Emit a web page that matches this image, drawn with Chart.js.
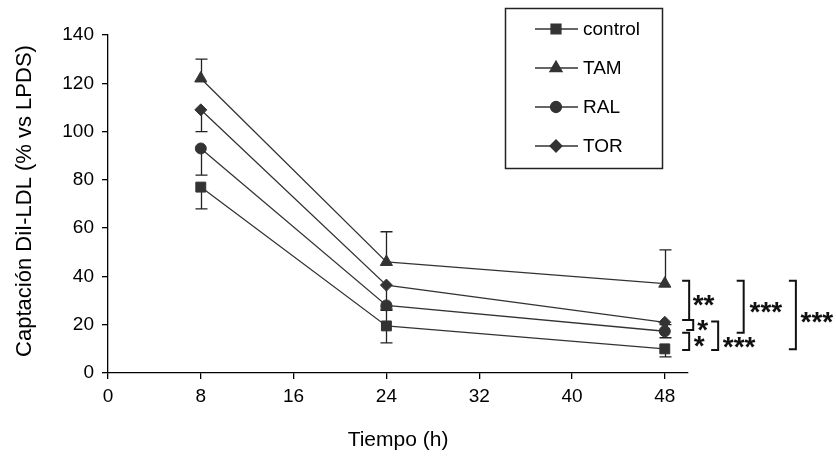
<!DOCTYPE html>
<html lang="es">
<head>
<meta charset="UTF-8">
<title>Captación DiI-LDL</title>
<script src="https://cdn.jsdelivr.net/npm/chart.js@4.4.1/dist/chart.umd.min.js"></script>
<style>
  html, body { margin: 0; padding: 0; background: #fff; }
  .wrap { width: 836px; height: 457px; position: relative; }
</style>
</head>
<body>
<div class="wrap"><canvas id="myChart"></canvas></div>
<script>
const hours = [8, 24, 48];
const xTicks = [0, 8, 16, 24, 32, 40, 48];
const seriesNames = ['control', 'TAM', 'RAL', 'TOR'];

const control = [77, 19.5, 10];
const tam = [122, 46, 37];
const ral = [93, 28, 17.3];
const tor = [109, 36.4, 21];

// error bars, only the direction that shows in the figure
const controlErrUp = [0, 7, 0];
const controlErrDown = [9, 7, 3.3];
const tamErrUp = [8, 12.5, 14];
const tamErrDown = [0, 0, 0];
const ralErrUp = [0, 0, 0];
const ralErrDown = [11, 2, 2.7];
const torErrUp = [0, 0, 0];
const torErrDown = [9, 9, 1];

// significance brackets (y in % units, x in hours)
const brackets = [
  { top: 38.2, bottom: 22, x: 50.1 },
  { top: 22, bottom: 17.8, x: 50.45 },
  { top: 16.7, bottom: 9.5, x: 50.1 },
  { top: 21.3, bottom: 9.5, x: 52.6 },
  { top: 38.2, bottom: 16.7, x: 54.8 },
  { top: 38.2, bottom: 9.8, x: 59.3 },
];
const stars = [
  { text: '**', x: 50.4, y: 30 },
  { text: '*', x: 50.8, y: 19.5 },
  { text: '*', x: 50.5, y: 13 },
  { text: '***', x: 53.0, y: 12.5 },
  { text: '***', x: 55.3, y: 27.2 },
  { text: '***', x: 59.7, y: 23 },
];

const FONT = 'Arial, "Liberation Sans", sans-serif';
const INK = '#333';

function pts(vals) {
  return hours.map((h, i) => ({ x: h, y: vals[i] }));
}

function series(label, vals, up, down, style, radius) {
  return {
    label: label,
    data: pts(vals),
    errUp: up,
    errDown: down,
    borderColor: INK,
    borderWidth: 1.3,
    backgroundColor: INK,
    pointBackgroundColor: INK,
    pointBorderColor: INK,
    pointBorderWidth: 1,
    pointStyle: style,
    pointRadius: radius,
    tension: 0,
  };
}

const errorBars = {
  id: 'errorBars',
  beforeDatasetsDraw(chart) {
    const { ctx } = chart;
    const yS = chart.scales.y;
    ctx.save();
    ctx.strokeStyle = '#222';
    ctx.lineWidth = 1.3;
    chart.data.datasets.forEach((ds, i) => {
      chart.getDatasetMeta(i).data.forEach((pt, j) => {
        const v = ds.data[j].y;
        const lo = yS.getPixelForValue(v - ds.errDown[j]);
        const hi = yS.getPixelForValue(v + ds.errUp[j]);
        const x = Math.round(pt.x) + 0.5;
        ctx.beginPath();
        ctx.moveTo(x, lo);
        ctx.lineTo(x, hi);
        if (ds.errDown[j] > 0) { ctx.moveTo(x - 6, lo); ctx.lineTo(x + 6, lo); }
        if (ds.errUp[j] > 0) { ctx.moveTo(x - 6, hi); ctx.lineTo(x + 6, hi); }
        ctx.stroke();
      });
    });
    ctx.restore();
  }
};

const extras = {
  id: 'extras',
  afterDraw(chart) {
    const { ctx } = chart;
    const xS = chart.scales.x, yS = chart.scales.y;
    ctx.save();

    // y axis title
    ctx.fillStyle = '#000';
    ctx.font = '22px ' + FONT;
    ctx.textAlign = 'center';
    ctx.textBaseline = 'middle';
    ctx.translate(25, 201);
    ctx.rotate(-Math.PI / 2);
    ctx.fillText('Captación DiI-LDL (% vs LPDS)', 0, 0);
    ctx.setTransform(1, 0, 0, 1, 0, 0);

    // brackets
    ctx.strokeStyle = '#111';
    ctx.lineWidth = 2;
    brackets.forEach(b => {
      const x = xS.getPixelForValue(b.x);
      const t = yS.getPixelForValue(b.top);
      const bt = yS.getPixelForValue(b.bottom);
      ctx.beginPath();
      ctx.moveTo(x - 7, t);
      ctx.lineTo(x, t);
      ctx.lineTo(x, bt);
      ctx.lineTo(x - 7, bt);
      ctx.stroke();
    });

    // asterisks
    ctx.font = 'bold 28px ' + FONT;
    ctx.textAlign = 'left';
    ctx.textBaseline = 'alphabetic';
    ctx.fillStyle = '#111';
    const m = ctx.measureText('*');
    const shift = (m.actualBoundingBoxAscent - m.actualBoundingBoxDescent) / 2;
    stars.forEach(s => {
      ctx.fillText(s.text, xS.getPixelForValue(s.x), yS.getPixelForValue(s.y) + shift);
    });

    // legend box
    ctx.strokeStyle = '#222';
    ctx.lineWidth = 1.5;
    ctx.strokeRect(505.5, 8.5, 157, 160);
    ctx.font = '19px ' + FONT;
    ctx.textBaseline = 'middle';
    ctx.fillStyle = '#000';
    chart.data.datasets.forEach((ds, i) => {
      const y = 29 + i * 39;
      ctx.strokeStyle = INK;
      ctx.lineWidth = 1.3;
      ctx.beginPath();
      ctx.moveTo(535, y);
      ctx.lineTo(578, y);
      ctx.stroke();
      ctx.fillStyle = INK;
      Chart.helpers.drawPoint(ctx, { pointStyle: ds.pointStyle, radius: ds.pointRadius, rotation: 0, borderWidth: 1 }, 556, y);
      ctx.fillStyle = '#000';
      ctx.fillText(ds.label, 583, y + 1);
    });
    ctx.restore();
  }
};

const config = {
  type: 'line',
  data: {
    datasets: [
      series(seriesNames[0], control, controlErrUp, controlErrDown, 'rect', 7),
      series(seriesNames[1], tam, tamErrUp, tamErrDown, 'triangle', 7),
      series(seriesNames[2], ral, ralErrUp, ralErrDown, 'circle', 5.5),
      series(seriesNames[3], tor, torErrUp, torErrDown, 'rectRot', 6),
    ],
  },
  options: {
    animation: false,
    responsive: true,
    maintainAspectRatio: false,
    layout: { padding: { left: 0, right: 148, top: 35, bottom: 0 } },
    plugins: {
      legend: { display: false },
      tooltip: { enabled: false },
    },
    scales: {
      x: {
        type: 'linear',
        min: 0,
        max: 50,
        afterBuildTicks: s => { s.ticks = xTicks.map(v => ({ value: v })); },
        afterFit: s => { s.height = 84; },
        grid: { drawOnChartArea: false, tickLength: 6, color: '#000', lineWidth: 1.3 },
        border: { color: '#000', width: 1.3 },
        ticks: { color: '#000', font: { family: FONT, size: 19 }, padding: 6, maxRotation: 0 },
        title: { display: true, text: 'Tiempo (h)', color: '#000', font: { family: FONT, size: 21 }, padding: { top: 0, bottom: 4 } },
      },
      y: {
        min: 0,
        max: 140,
        afterFit: s => { s.width = 108; },
        grid: { drawOnChartArea: false, tickLength: 6, color: '#000', lineWidth: 1.3 },
        border: { color: '#000', width: 1.3 },
        ticks: { stepSize: 20, color: '#000', font: { family: FONT, size: 19 }, padding: 8 },
      },
    },
  },
  plugins: [errorBars, extras],
};

const myChart = new Chart(document.getElementById('myChart'), config);
</script>
</body>
</html>
